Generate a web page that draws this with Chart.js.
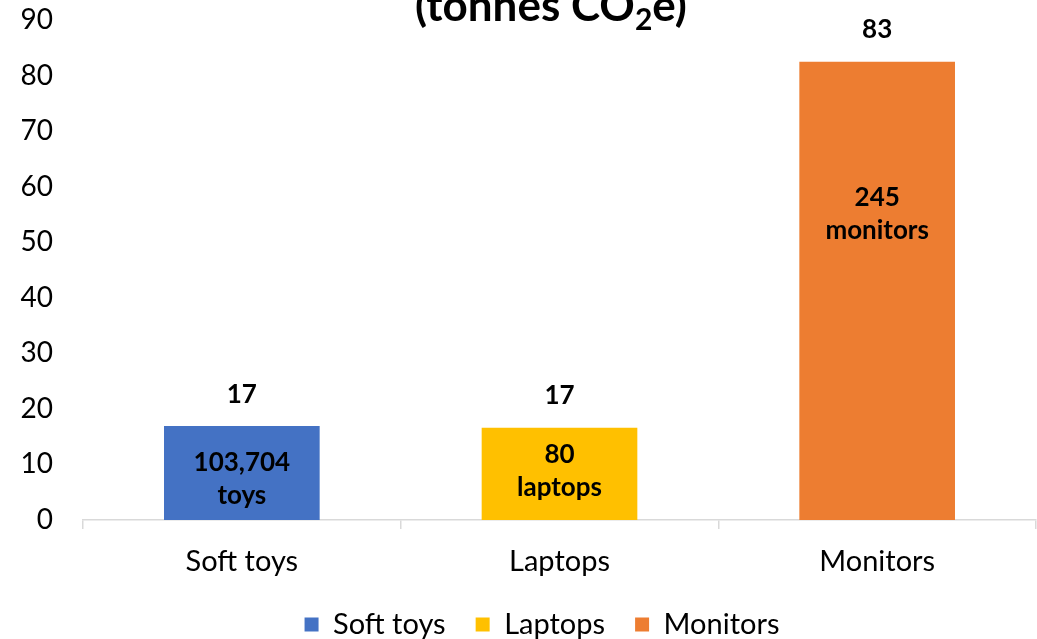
<!DOCTYPE html>
<html>
<head>
<meta charset="utf-8">
<script src="https://cdn.jsdelivr.net/npm/chart.js@4/dist/chart.umd.min.js"></script>
<style>
  html, body { margin: 0; padding: 0; background: #fff; }
  #wrap { width: 1037px; height: 639px; }
</style>
</head>
<body>
<div id="wrap"><canvas id="barChart"></canvas></div>
<script>
// data
var categories = ['Soft toys', 'Laptops', 'Monitors'];
var emissions = [16.9, 16.6, 82.5];          // tonnes CO2e
var unitCounts = ['103,704', '80', '245'];
var unitNames = ['toys', 'laptops', 'monitors'];
var yTicks = [0, 10, 20, 30, 40, 50, 60, 70, 80, 90];

var colors = ['#4472C4', '#FFC000', '#ED7D31'];
// where the inside labels sit, in axis units (first line)
var insideLabelAt = [10.3, 11.7, 58.1];

var FONT = 'Lato, "Open Sans", sans-serif';

// title is drawn by hand because of the subscript 2
var titlePlugin = {
  id: 'subTitle',
  afterDraw: function(chart) {
    var c = chart.ctx;
    c.save();
    c.fillStyle = '#000';
    c.textBaseline = 'alphabetic';
    c.textAlign = 'left';
    var big = 'bold 44px ' + FONT, small = 'bold 30px ' + FONT;
    var a = '(tonnes CO', b = '2', d = 'e)';
    c.font = big; var wa = c.measureText(a).width, wd = c.measureText(d).width;
    c.font = small; var wb = c.measureText(b).width;
    var x = 551 - (wa + wb + wd) / 2, y = 21;
    c.font = big; c.fillText(a, x, y);
    c.font = small; c.fillText(b, x + wa, y + 9);
    c.font = big; c.fillText(d, x + wa + wb, y);
    c.restore();
  }
};

var labelPlugin = {
  id: 'barLabels',
  afterDatasetsDraw: function(chart) {
    var c = chart.ctx;
    var meta = chart.getDatasetMeta(0);
    var yScale = chart.scales.y;
    c.save();
    c.fillStyle = '#000';
    c.textAlign = 'center';
    c.textBaseline = 'middle';
    c.font = 'bold 26px ' + FONT;
    meta.data.forEach(function(bar, i) {
      c.fillText(Math.round(emissions[i]).toString(), bar.x, bar.y - 32);
      var y0 = yScale.getPixelForValue(insideLabelAt[i]);
      c.fillText(unitCounts[i], bar.x, y0);
      c.fillText(unitNames[i], bar.x, y0 + 33);
    });
    c.restore();
  }
};

// legend: keep the wide gaps between items but a shorter box, nudged right
var legendFix = {
  id: 'legendFix',
  beforeLayout: function(chart) {
    var lg = chart.legend;
    if (lg && !lg._fixed) {
      var fit = lg.fit;
      lg.fit = function() { fit.call(this); this.height = 59; };
      lg._fixed = true;
    }
  },
  afterLayout: function(chart) {
    var lg = chart.legend;
    if (lg) { lg.left += 24; lg.right += 24; }
  }
};

var ctx = document.getElementById('barChart').getContext('2d');
var barChart = new Chart(ctx, {
  type: 'bar',
  data: {
    labels: categories,
    datasets: [{
      label: 'tonnes CO2e',
      data: emissions,
      backgroundColor: colors,
      borderWidth: 0,
      barPercentage: 0.98,
      categoryPercentage: 0.5
    }]
  },
  options: {
    responsive: true,
    maintainAspectRatio: false,
    animation: false,
    layout: { padding: { top: 20, right: 1, left: 0, bottom: 0 } },
    scales: {
      x: {
        grid: { display: true, drawOnChartArea: false, drawTicks: true, tickLength: 9, color: '#d9d9d9', lineWidth: 1.5, offset: true },
        border: { display: true, color: '#d9d9d9', width: 1.5 },
        ticks: { color: '#000', font: { family: FONT, size: 29 }, padding: 15 },
        afterFit: function(scale) { scale.height = 60; }
      },
      y: {
        min: 0,
        max: 90,
        afterBuildTicks: function(scale) {
          scale.ticks = yTicks.map(function(v) { return { value: v }; });
        },
        grid: { display: false, drawTicks: true, tickLength: 30 },
        border: { display: false },
        ticks: { color: '#000', font: { family: FONT, size: 28 }, padding: 0 },
        afterFit: function(scale) { scale.width = 83; }
      }
    },
    plugins: {
      title: { display: false },
      tooltip: { enabled: false },
      legend: {
        display: true,
        position: 'bottom',
        labels: {
          color: '#000',
          font: { family: FONT, size: 29 },
          boxWidth: 14,
          boxHeight: 14,
          padding: 30,
          generateLabels: function(chart) {
            return categories.map(function(name, i) {
              return { text: name, fillStyle: colors[i], strokeStyle: colors[i], lineWidth: 0, index: i };
            });
          }
        }
      }
    }
  },
  plugins: [titlePlugin, labelPlugin, legendFix]
});
</script>
</body>
</html>
